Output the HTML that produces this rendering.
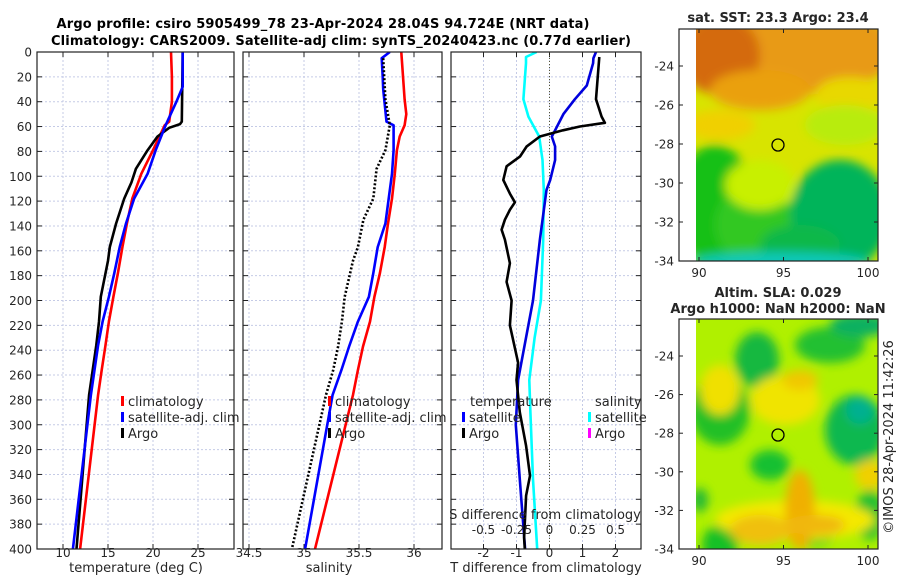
<!DOCTYPE html>
<html><head><meta charset="utf-8"><style>
body{margin:0;background:#fff}
svg{display:block;font-family:"DejaVu Sans","Liberation Sans",sans-serif}
</style></head><body>
<svg id="fig" width="900" height="580" viewBox="0 0 900 580">
<defs>
<filter id="blur1" x="-50%" y="-50%" width="200%" height="200%"><feGaussianBlur stdDeviation="5"/></filter>
<clipPath id="cm1"><rect x="696" y="29" width="182" height="232"/></clipPath>
<clipPath id="cm2"><rect x="696" y="319" width="182" height="230"/></clipPath>
<clipPath id="cp1"><rect x="37" y="52" width="197" height="497"/></clipPath>
<clipPath id="cp2"><rect x="243" y="52" width="199" height="497"/></clipPath>
<clipPath id="cp3"><rect x="451" y="52" width="190" height="497"/></clipPath>
</defs>
<text x="323" y="28" text-anchor="middle" font-weight="bold" font-size="13" textLength="533">Argo profile: csiro 5905499_78 23-Apr-2024 28.04S 94.724E (NRT data)</text>
<text x="341" y="45" text-anchor="middle" font-weight="bold" font-size="13" textLength="580">Climatology: CARS2009. Satellite-adj clim: synTS_20240423.nc (0.77d earlier)</text>
<g id="panels"></g>
<g id="maps"></g>
</svg>
<script>
// ---- profile data ----
const tClimDepth=[0,20,40,56,59,79,98,118,138,157,178,197,217,237,256,276,400];
const tClimVal=[22.0,22.1,22.1,21.8,21.3,20.0,18.7,17.7,17.1,16.6,16.1,15.6,15.1,14.7,14.3,13.9,11.9];
const tSatDepth=[0,28,40,59,79,98,118,138,157,178,197,217,236,276,400];
const tSatVal=[23.3,23.3,22.6,21.4,20.3,19.4,17.9,17.0,16.3,15.7,15.1,14.4,13.9,13.1,11.1];
const tArgoDepth=[0,56,58,61,68,79,94,105,118,138,157,168,197,217,236,276,400];
const tArgoVal=[23.3,23.2,23.0,21.8,20.5,19.4,18.1,17.6,16.8,15.9,15.2,15.0,14.2,14.0,13.7,12.9,11.5];
const sClimDepth=[0,38,50,59,68,79,98,118,138,157,178,197,217,237,256,276,400];
const sClimVal=[35.885,35.915,35.93,35.915,35.87,35.845,35.825,35.80,35.764,35.734,35.69,35.64,35.60,35.536,35.49,35.445,35.10];
const sSatDepth=[0,5,20,30,56,59,79,98,118,138,157,178,197,217,237,256,276,400];
const sSatVal=[35.78,35.706,35.715,35.72,35.75,35.815,35.815,35.80,35.77,35.74,35.67,35.63,35.59,35.49,35.41,35.34,35.26,35.01];
const sArgoDepth=[5,38,59,79,94,118,135,157,168,197,217,237,256,276,400];
const sArgoVal=[35.72,35.74,35.78,35.74,35.66,35.63,35.54,35.49,35.445,35.37,35.345,35.31,35.265,35.20,34.89];
const dTDepth=[0,5,9,27,38,50,63,68,76,87,103,111,151,200,264,300,344,400];
const dTSatVal=[1.41,1.33,1.32,1.13,0.77,0.42,0.17,0.07,0.17,0.17,0.02,-0.09,-0.29,-0.5,-0.95,-1.02,-0.9,-0.74];
const dTArgoDepth=[4,38,52,57,60,63,68,76,84,92,103,114,121,127,135,143,151,170,185,200,220,250,264,290,317,341,357,391,400];
const dTArgoVal=[1.51,1.41,1.58,1.68,0.92,0.41,-0.29,-0.69,-0.89,-1.3,-1.4,-1.2,-1.05,-1.2,-1.35,-1.45,-1.35,-1.2,-1.3,-1.15,-1.2,-0.95,-1.0,-0.9,-0.71,-0.59,-0.71,-0.77,-0.75];
const dSDepth=[0,4,9,38,52,68,87,111,151,200,230,264,290,344,400];
const dSSatVal=[-0.098,-0.178,-0.178,-0.198,-0.16,-0.078,-0.053,-0.043,-0.048,-0.065,-0.113,-0.153,-0.145,-0.125,-0.093];
const depthTicks=[0,20,40,60,80,100,120,140,160,180,200,220,240,260,280,300,320,340,360,380,400];
const tTicks=[10,15,20,25];
const sTicks=[34.5,35,35.5,36];
const dTTicks=[-2,-1,0,1,2];
const dSTickLabels=["-0.5","-0.25","0","0.25","0.5"];
const dSTickVals=[-0.5,-0.25,0,0.25,0.5];

const NS="http://www.w3.org/2000/svg";
function mk(tag,attrs,parent){const e=document.createElementNS(NS,tag);for(const k in attrs)e.setAttribute(k,attrs[k]);parent.appendChild(e);return e;}
const Y=d=>52+d*(497/400);
const xT=v=>63+(v-10)*9;
const xS=v=>249+(v-34.5)*110;
const xD=v=>549.5+v*33;
const xDS=v=>549.5+v*4*33;
const P=document.getElementById('panels');

function frame(x0,x1,name,xTicks,xf,labels,withY){
  const g=mk('g',{},P);
  
  
  depthTicks.forEach(d=>{const l=mk('line',{x1:x0,x2:x1,y1:Y(d),y2:Y(d),stroke:'#c5cbe6','stroke-width':1,'stroke-dasharray':'2,2'},g);
    });
  xTicks.forEach(v=>{const l=mk('line',{x1:xf(v),x2:xf(v),y1:52,y2:549,stroke:'#c5cbe6','stroke-width':1,'stroke-dasharray':'2,2'},g);
    });
  depthTicks.forEach(d=>{mk('line',{x1:x0,x2:x0+5,y1:Y(d),y2:Y(d),stroke:'#222'},g);mk('line',{x1:x1-5,x2:x1,y1:Y(d),y2:Y(d),stroke:'#222'},g);
    if(withY){const t=mk('text',{x:x0-5,y:Y(d)+4.5,'text-anchor':'end','font-size':12,fill:'#262626'},g);t.textContent=d;
      }});
  xTicks.forEach((v,i)=>{mk('line',{x1:xf(v),x2:xf(v),y1:549,y2:544,stroke:'#222'},g);mk('line',{x1:xf(v),x2:xf(v),y1:52,y2:57,stroke:'#222'},g);
    const t=mk('text',{x:xf(v),y:557,'text-anchor':'middle','font-size':12,fill:'#262626'},g);t.textContent=labels?labels[i]:v;
    });
  return g;
}
function line(g,ds,vs,xf,color,w,dash,clip,name){
  const pts=ds.map((d,i)=>xf(vs[i]).toFixed(1)+','+Y(d).toFixed(1)).join(' ');
  const a={points:pts,fill:'none',stroke:color,'stroke-width':w,'stroke-linejoin':'round','clip-path':'url(#'+clip+')'};
  if(dash)a['stroke-dasharray']=dash;
  const e=mk('polyline',a,g);
  
  
}
function box(g,x0,x1){const r=mk('rect',{x:x0,y:52,width:x1-x0,height:497,fill:'none',stroke:'#222','stroke-width':1.2},g);
  }
function txt(g,x,y,s,name,anchor,size,extra){const t=mk('text',Object.assign({x:x,y:y,'text-anchor':anchor||'start','font-size':size||13,fill:'#262626'},extra||{}),g);t.textContent=s;
  return t;}
function legItem(g,x,y,color,s,name){const r=mk('rect',{x:x,y:y-10,width:3,height:10,fill:color},g);
  
  txt(g,x+7,y,s,name,'start',13);}

// Panel 1
let g1=frame(37,234,'temperature-panel',tTicks,xT,null,true);
line(g1,tClimDepth,tClimVal,xT,'#ff0000',2.6,null,'cp1','temp-climatology-line');
line(g1,tArgoDepth,tArgoVal,xT,'#000',2.6,null,'cp1','temp-argo-line');
line(g1,tSatDepth,tSatVal,xT,'#0000ff',2.6,null,'cp1','temp-satellite-line');
box(g1,37,234);
legItem(g1,121,406,'#ff0000','climatology','legend-climatology');
legItem(g1,121,422,'#0000ff','satellite-adj. clim','legend-satellite');
legItem(g1,121,438,'#000','Argo','legend-argo');
txt(g1,136,572,'temperature (deg C)','x-axis-title-temperature','middle',13);

// Panel 2
let g2=frame(243,442,'salinity-panel',sTicks,xS,null,false);
line(g2,sClimDepth,sClimVal,xS,'#ff0000',2.6,null,'cp2','sal-climatology-line');
line(g2,sSatDepth,sSatVal,xS,'#0000ff',2.6,null,'cp2','sal-satellite-line');
line(g2,sArgoDepth,sArgoVal,xS,'#000',2.6,'2,2','cp2','sal-argo-line');
box(g2,243,442);
legItem(g2,328,406,'#ff0000','climatology','legend-climatology-s');
legItem(g2,328,422,'#0000ff','satellite-adj. clim','legend-satellite-s');
legItem(g2,328,438,'#000','Argo','legend-argo-s');
txt(g2,329,572,'salinity','x-axis-title-salinity','middle',13);

// Panel 3
let g3=frame(451,641,'difference-panel',dTTicks,xD,null,false);
const z=mk('line',{x1:549.5,x2:549.5,y1:52,y2:549,stroke:'#555533','stroke-width':1,'stroke-dasharray':'1,2'},g3);

line(g3,dSDepth,dSSatVal,xDS,'#00ffff',2.6,null,'cp3','sal-diff-satellite-line');
line(g3,dTDepth,dTSatVal,xD,'#0000dd',2.6,null,'cp3','temp-diff-satellite-line');
line(g3,dTArgoDepth,dTArgoVal,xD,'#000',2.6,null,'cp3','temp-diff-argo-line');
box(g3,451,641);
txt(g3,470,406,'temperature','legend-temperature-header','start',13);
legItem(g3,462,422,'#0000ff','satellite','legend-temp-satellite');
legItem(g3,462,438,'#000','Argo','legend-temp-argo');
txt(g3,595,406,'salinity','legend-salinity-header','start',13);
legItem(g3,588,422,'#00ffff','satellite','legend-sal-satellite');
legItem(g3,588,438,'#ff00ff','Argo','legend-sal-argo');
txt(g3,545,519,'S difference from climatology','s-axis-title','middle',13);
dSTickVals.forEach((v,i)=>{txt(g3,xDS(v),534,dSTickLabels[i],'s-tick-label','middle',12);});
txt(g3,546,572,'T difference from climatology','t-axis-title','middle',13);

// ---- maps ----
const M=document.getElementById('maps');
const latTicks=[-24,-26,-28,-30,-32,-34];
const lonTicks=[90,95,100];
function mapFrame(oy,name){
  const g=mk('g',{},M);
  
  return g;
}
function mapAxes(g,oy,h){
  const r=mk('rect',{x:679,y:oy,width:199,height:h,fill:'none',stroke:'#222','stroke-width':1.2},g);
  
  latTicks.forEach((la,i)=>{const y=oy+37+i*(h-37)/5;
    mk('line',{x1:679,x2:683,y1:y,y2:y,stroke:'#222'},g);mk('line',{x1:874,x2:878,y1:y,y2:y,stroke:'#222'},g);
    txt(g,674,y+4.5,String(la),'lat-tick-label','end',12);});
  lonTicks.forEach(lo=>{const x=699+(lo-90)*16.9;
    mk('line',{x1:x,x2:x,y1:oy+h,y2:oy+h-4,stroke:'#222'},g);mk('line',{x1:x,x2:x,y1:oy,y2:oy+4,stroke:'#222'},g);
    txt(g,x,oy+h+16,String(lo),'lon-tick-label','middle',12);});
  const c=mk('circle',{cx:778,cy:oy+116,r:6,fill:'none',stroke:'#000','stroke-width':1.3},g);
  
}
function blobs(g,clip,base,list,filt){
  const gg=mk('g',{'clip-path':'url(#'+clip+')'},g);
  mk('rect',{x:696,y:base[0],width:182,height:base[1],fill:base[2]},gg);
  const inner=mk('g',{filter:'url(#'+filt+')'},gg);
  list.items.forEach(b=>{mk('ellipse',{cx:b[0],cy:b[1],rx:b[2],ry:b[3],fill:b[4]},inner);});
}
// SST map
let mg1=mapFrame(29,'sst-map');
txt(mg1,778,22,'sat. SST: 23.3 Argo: 23.4','sst-map-title','middle',13,{'font-weight':'bold'});
blobs(mg1,'cm1',[29,232,'#d8e400'],{items:[
 [787,50,110,45,'#e89a12'],[720,55,40,40,'#d46a10'],[760,90,50,20,'#eaa010'],[850,95,35,18,'#e8d800'],
 [720,125,35,15,'#f0d000'],[845,125,40,20,'#b8ec10'],
 [715,205,40,60,'#18c018'],[755,225,40,40,'#30c820'],[760,185,35,25,'#c8f000'],
 [840,215,50,55,'#00b45a'],[800,245,40,20,'#10b848'],[780,262,90,10,'#10c8b8']
]},'blur1');
mapAxes(mg1,29,232);
// SLA map
let mg2=mapFrame(319,'sla-map');
txt(mg2,778,297,'Altim. SLA: 0.029','sla-map-title','middle',13,{'font-weight':'bold'});
txt(mg2,778,313,'Argo h1000: NaN h2000: NaN','argo-height-title','middle',13,{'font-weight':'bold'});
blobs(mg2,'cm2',[319,230,'#b0f000'],{items:[
 [757,360,22,28,'#18b840'],[830,345,35,18,'#20c030'],[860,325,30,12,'#10b060'],
 [720,410,30,35,'#20c028'],[770,465,20,15,'#18c030'],[855,430,30,35,'#10b850'],[860,410,14,14,'#00b090'],
 [720,545,18,20,'#18c028'],[700,500,8,12,'#20b838'],[870,515,15,25,'#20c030'],[810,535,25,12,'#50d020'],
 [720,390,20,25,'#f0e000'],[785,400,35,25,'#f0e400'],[800,380,18,10,'#f0c800'],
 [795,520,80,20,'#f4e800'],[800,510,15,40,'#f0b000'],[760,530,30,15,'#f0c010'],[815,525,30,10,'#f0b810'],
 [870,475,15,15,'#f0d000']
]},'blur1');
mapAxes(mg2,319,230);
const ts=txt(M,893,437,'©IMOS 28-Apr-2024 11:42:26','timestamp','middle',13,{transform:'rotate(-90 893 437)'});
</script>
</body></html>
